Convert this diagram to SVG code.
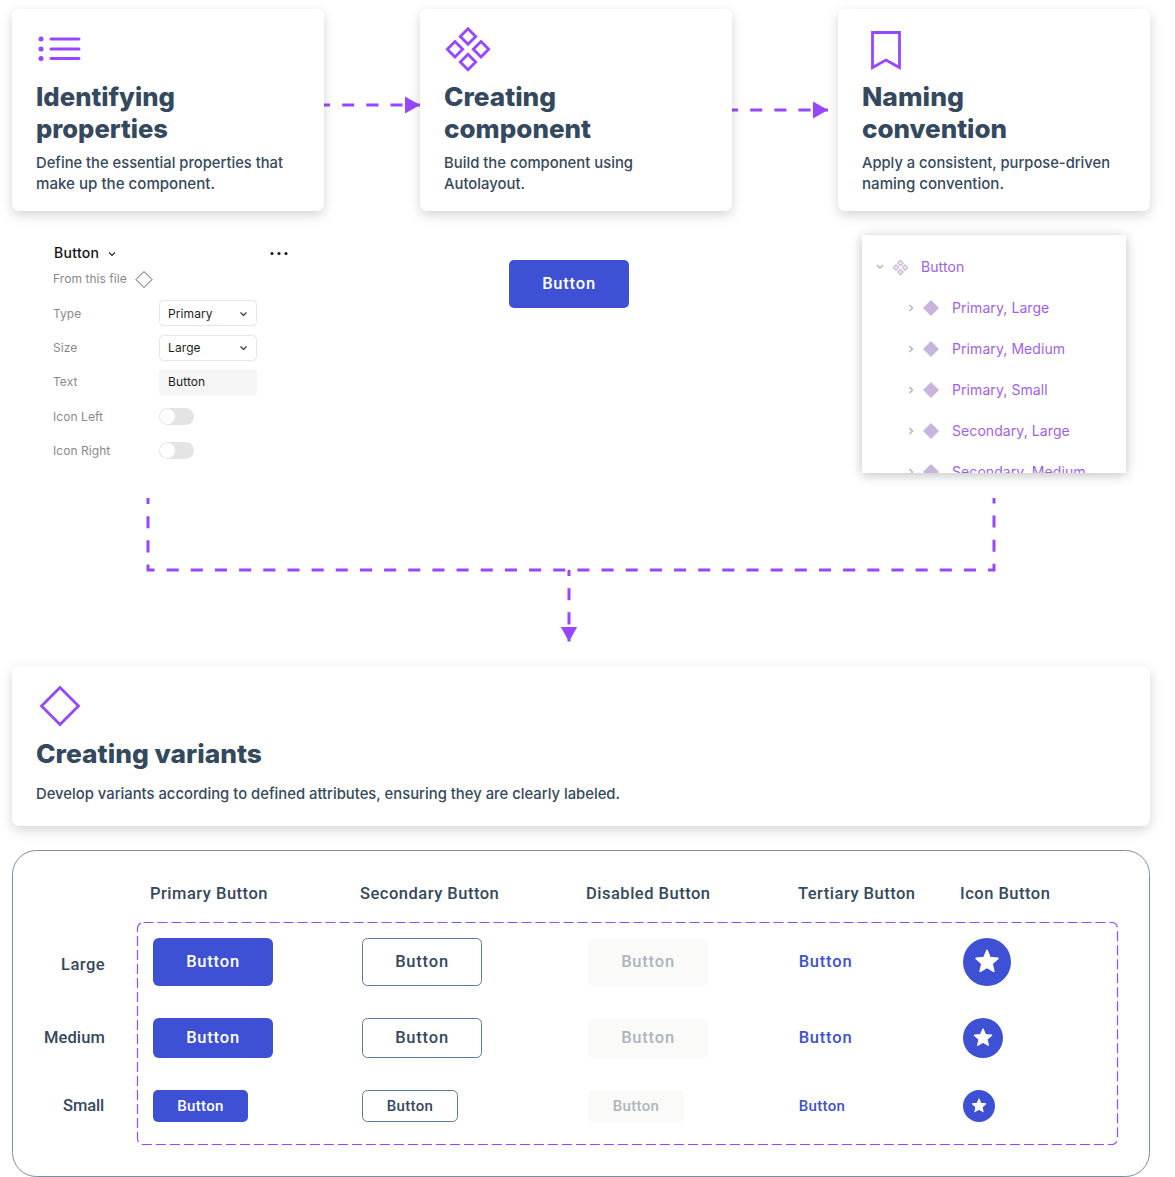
<svg xmlns="http://www.w3.org/2000/svg" width="1175" height="1177" viewBox="0 0 1175 1177">
<defs>
<filter id="sh" x="-10%" y="-20%" width="120%" height="140%"><feDropShadow dx="0" dy="4" stdDeviation="6" flood-color="#000" flood-opacity="0.17"/></filter>
<filter id="sh2" x="-15%" y="-15%" width="130%" height="130%"><feDropShadow dx="0" dy="2" stdDeviation="6" flood-color="#000" flood-opacity="0.25"/></filter>
<marker id="arr" markerUnits="userSpaceOnUse" markerWidth="16" markerHeight="18" refX="15" refY="9" orient="auto"><path d="M0 0.5L15 9L0 17.5Z" fill="#9747ff"/></marker>
<clipPath id="layers"><rect x="862" y="235" width="264" height="238"/></clipPath>
<path id="star" d="M0-10L2.7-3.72L9.51-3.09L4.37 1.42L5.88 8.09L0 4.6L-5.88 8.09L-4.37 1.42L-9.51-3.09L-2.7-3.72Z" fill="#fff" stroke="#fff" stroke-width="1.5" stroke-linejoin="round"/>
</defs>
<style>
text{font-family:"Inter","Liberation Sans",sans-serif}
.card{fill:#fff;filter:url(#sh)}
.h{font-weight:800;font-size:26px;fill:#34495e}
.d{font-weight:450;font-size:15px;fill:#34495e}
.ic{fill:none;stroke:#9747ff;stroke-width:2.8}
.c{fill:none;stroke:#9747ff;stroke-width:3;stroke-dasharray:12.08 12.08;stroke-dashoffset:6}
.lab{font-size:12px;fill:#8a8a8a;letter-spacing:.06px}
.val{font-size:12px;fill:#1e1e1e;letter-spacing:.1px}
.sel{fill:#fff;stroke:#e6e6e6}
.ch{fill:none;stroke:#333;stroke-width:1.2}
.tg{fill:#e4e4e4}
.ly{font-size:14px;fill:#9f5fec;letter-spacing:.08px}
.lch{fill:none;stroke:#b0b0b0;stroke-width:1.3}
.ld{fill:#c9b4dd}
.r,.b{font-family:"Roboto","Liberation Sans",sans-serif;font-weight:500;font-size:16.5px;letter-spacing:.5px;fill:#34495e}
.b{text-anchor:middle;letter-spacing:.8px}
.bs{font-size:15px;letter-spacing:.35px}
.p{fill:#3e51d5}
.s{fill:#fff;stroke:#5a7a9f}
.dis{fill:#fafaf8}
.b.w{fill:#fff}
.b.tg2{fill:#adb5bd}
.b.tb{fill:#3e51d5}
</style>
<g id="connectors">
<path class="c" d="M324 105H420" marker-end="url(#arr)"/>
<path class="c" d="M732 110H828" marker-end="url(#arr)"/>
<path class="c" d="M148 498V570H994V498"/>
<path class="c" d="M569 570V641.500" marker-end="url(#arr)"/>
</g>
<g id="card-identifying">
<rect class="card" x="12" y="9" width="312" height="202" rx="8"/>
<g fill="#9747ff"><circle cx="41" cy="39" r="2.5"/><circle cx="41" cy="49" r="2.5"/><circle cx="41" cy="58.500" r="2.500"/></g>
<path d="M51 39H79M51 49H79M51 58.500H79" fill="none" stroke="#9747ff" stroke-width="3" stroke-linecap="round"/>
<text class="h" x="36" y="106" textLength="139" lengthAdjust="spacingAndGlyphs">Identifying</text>
<text class="h" x="36" y="138" textLength="132" lengthAdjust="spacingAndGlyphs">properties</text>
<text class="d" x="36" y="168" textLength="247" lengthAdjust="spacingAndGlyphs">Define the essential properties that</text>
<text class="d" x="36" y="189" textLength="179" lengthAdjust="spacingAndGlyphs">make up the component.</text>
</g>
<g id="card-creating">
<rect class="card" x="420" y="9" width="312" height="202" rx="8"/>
<path class="ic" d="M468 28.800L475.700 36.500L468 44.200L460.300 36.500ZM455 41.600L462.700 49.300L455 57L447.300 49.300ZM481 41.600L488.700 49.300L481 57L473.300 49.300ZM468 54.300L475.700 62L468 69.700L460.300 62Z"/>
<text class="h" x="444" y="106" textLength="112" lengthAdjust="spacingAndGlyphs">Creating</text>
<text class="h" x="444" y="138" textLength="147" lengthAdjust="spacingAndGlyphs">component</text>
<text class="d" x="444" y="168" textLength="189" lengthAdjust="spacingAndGlyphs">Build the component using</text>
<text class="d" x="444" y="189" textLength="81" lengthAdjust="spacingAndGlyphs">Autolayout.</text>
</g>
<g id="card-naming">
<rect class="card" x="838" y="9" width="312" height="202" rx="8"/>
<path class="ic" d="M872.500 32.500H899.500V67.500L886 60L872.500 67.500Z"/>
<text class="h" x="862" y="106" textLength="102" lengthAdjust="spacingAndGlyphs">Naming</text>
<text class="h" x="862" y="138" textLength="145" lengthAdjust="spacingAndGlyphs">convention</text>
<text class="d" x="862" y="168" textLength="248" lengthAdjust="spacingAndGlyphs">Apply a consistent, purpose-driven</text>
<text class="d" x="862" y="189" textLength="142" lengthAdjust="spacingAndGlyphs">naming convention.</text>
</g>
<g id="properties-panel">
<text x="54" y="258" font-size="14" font-weight="500" fill="#111" letter-spacing=".3">Button</text>
<path class="ch" d="M109 252.500L112 255.500L115 252.500"/>
<g fill="#111"><circle cx="272" cy="253.500" r="1.500"/><circle cx="279" cy="253.500" r="1.500"/><circle cx="286" cy="253.500" r="1.500"/></g>
<text class="lab" x="53" y="283">From this file</text>
<path d="M144 271.500L152 279.500L144 287.500L136 279.500Z" fill="#fff" stroke="#555"/>
<text class="lab" x="53" y="318">Type</text>
<rect class="sel" x="159.500" y="300.500" width="97" height="25" rx="4"/>
<text class="val" x="168" y="318">Primary</text>
<path class="ch" d="M240.500 312.500L243.500 315.500L246.500 312.500"/>
<text class="lab" x="53" y="352">Size</text>
<rect class="sel" x="159.500" y="335.500" width="97" height="25" rx="4"/>
<text class="val" x="168" y="352">Large</text>
<path class="ch" d="M240.500 346.500L243.500 349.500L246.500 346.500"/>
<text class="lab" x="53" y="386">Text</text>
<rect x="159" y="369" width="98" height="26" rx="4" fill="#f5f5f5"/>
<text class="val" x="168" y="386">Button</text>
<text class="lab" x="53" y="421">Icon Left</text>
<rect class="tg" x="159" y="408" width="35" height="17" rx="8.500"/><circle cx="167.500" cy="416.500" r="7.500" fill="#fff"/>
<text class="lab" x="53" y="455">Icon Right</text>
<rect class="tg" x="159" y="442" width="35" height="17" rx="8.500"/><circle cx="167.500" cy="450.500" r="7.500" fill="#fff"/>
</g>
<g id="button-component">
<rect class="p" x="509" y="260" width="120" height="48" rx="5"/>
<text class="b w" x="569" y="289">Button</text>
</g>
<g id="layers-panel">
<rect x="862" y="235" width="264" height="238" fill="#fff" filter="url(#sh2)"/>
<g clip-path="url(#layers)">
<path class="lch" d="M877 265L880 268L883 265"/>
<path d="M900.500 260.500L903 263L900.500 265.500L898 263ZM896 265L898.500 267.500L896 270L893.500 267.500ZM905 265L907.500 267.500L905 270L902.500 267.500ZM900.500 269.500L903 272L900.500 274.500L898 272Z" fill="none" stroke="#c9b4dd" stroke-width="1.300"/>
<text class="ly" x="921" y="272">Button</text>
<path class="lch" d="M909.500 305L912.500 308L909.500 311M909.500 346L912.500 349L909.500 352M909.500 387L912.500 390L909.500 393M909.500 428L912.500 431L909.500 434M909.500 469L912.500 472L909.500 475"/>
<path class="ld" d="M931 300L939 308L931 316L923 308ZM931 341L939 349L931 357L923 349ZM931 382L939 390L931 398L923 390ZM931 423L939 431L931 439L923 431ZM931 464L939 472L931 480L923 472Z"/>
<text class="ly" x="952" y="313">Primary, Large</text>
<text class="ly" x="952" y="354">Primary, Medium</text>
<text class="ly" x="952" y="395">Primary, Small</text>
<text class="ly" x="952" y="436">Secondary, Large</text>
<text class="ly" x="952" y="477">Secondary, Medium</text>
</g>
</g>
<g id="card-variants">
<rect class="card" x="12" y="666" width="1138" height="160" rx="8"/>
<path class="ic" d="M60 687.500L78.500 706L60 724.500L41.500 706Z"/>
<text class="h" x="36" y="763" textLength="226" lengthAdjust="spacingAndGlyphs">Creating variants</text>
<text class="d" x="36" y="799" textLength="584" lengthAdjust="spacingAndGlyphs">Develop variants according to defined attributes, ensuring they are clearly labeled.</text>
</g>
<g id="variants-matrix">
<rect x="12.500" y="850.500" width="1137" height="326" rx="24" fill="#fff" stroke="#7f8c9a"/>
<rect x="137.500" y="922.500" width="980" height="222" rx="6" fill="none" stroke="#9747ff" stroke-width="1.200" stroke-dasharray="10 4"/>
<text class="r" x="150" y="899">Primary Button</text>
<text class="r" x="360" y="899" letter-spacing=".55">Secondary Button</text>
<text class="r" x="586" y="899">Disabled Button</text>
<text class="r" x="798" y="899">Tertiary Button</text>
<text class="r" x="960" y="899" letter-spacing=".6">Icon Button</text>
<text class="r" x="61" y="970">Large</text>
<text class="r" x="44" y="1043" style="letter-spacing:.1px">Medium</text>
<text class="r" x="63" y="1111" style="letter-spacing:-.1px">Small</text>
</g>
<g id="row-large">
<rect class="p" x="153" y="938" width="120" height="48" rx="6"/><text class="b w" x="213" y="967">Button</text>
<rect class="s" x="362.500" y="938.500" width="119" height="47" rx="5"/><text class="b" x="422" y="967">Button</text>
<rect class="dis" x="588" y="938" width="120" height="48" rx="6"/><text class="b tg2" x="648" y="967">Button</text>
<text class="b tb" x="825.500" y="967">Button</text>
<circle class="p" cx="987" cy="962" r="24"/><use href="#star" transform="translate(987 962) scale(1.15)"/>
</g>
<g id="row-medium">
<rect class="p" x="153" y="1018" width="120" height="40" rx="6"/><text class="b w" x="213" y="1043">Button</text>
<rect class="s" x="362.500" y="1018.500" width="119" height="39" rx="5"/><text class="b" x="422" y="1043">Button</text>
<rect class="dis" x="588" y="1018" width="120" height="40" rx="6"/><text class="b tg2" x="648" y="1043">Button</text>
<text class="b tb" x="825.500" y="1043">Button</text>
<circle class="p" cx="983" cy="1038" r="20"/><use href="#star" transform="translate(983 1038) scale(.9)"/>
</g>
<g id="row-small">
<rect class="p" x="153" y="1090" width="95" height="32" rx="5"/><text class="b bs w" x="200.500" y="1111">Button</text>
<rect class="s" x="362.500" y="1090.500" width="95" height="31" rx="5"/><text class="b bs" x="410" y="1111">Button</text>
<rect class="dis" x="588" y="1090" width="96" height="32" rx="5"/><text class="b bs tg2" x="636" y="1111">Button</text>
<text class="b bs tb" x="822" y="1111">Button</text>
<circle class="p" cx="979" cy="1106" r="16"/><use href="#star" transform="translate(979 1106) scale(.7)"/>
</g>
</svg>
